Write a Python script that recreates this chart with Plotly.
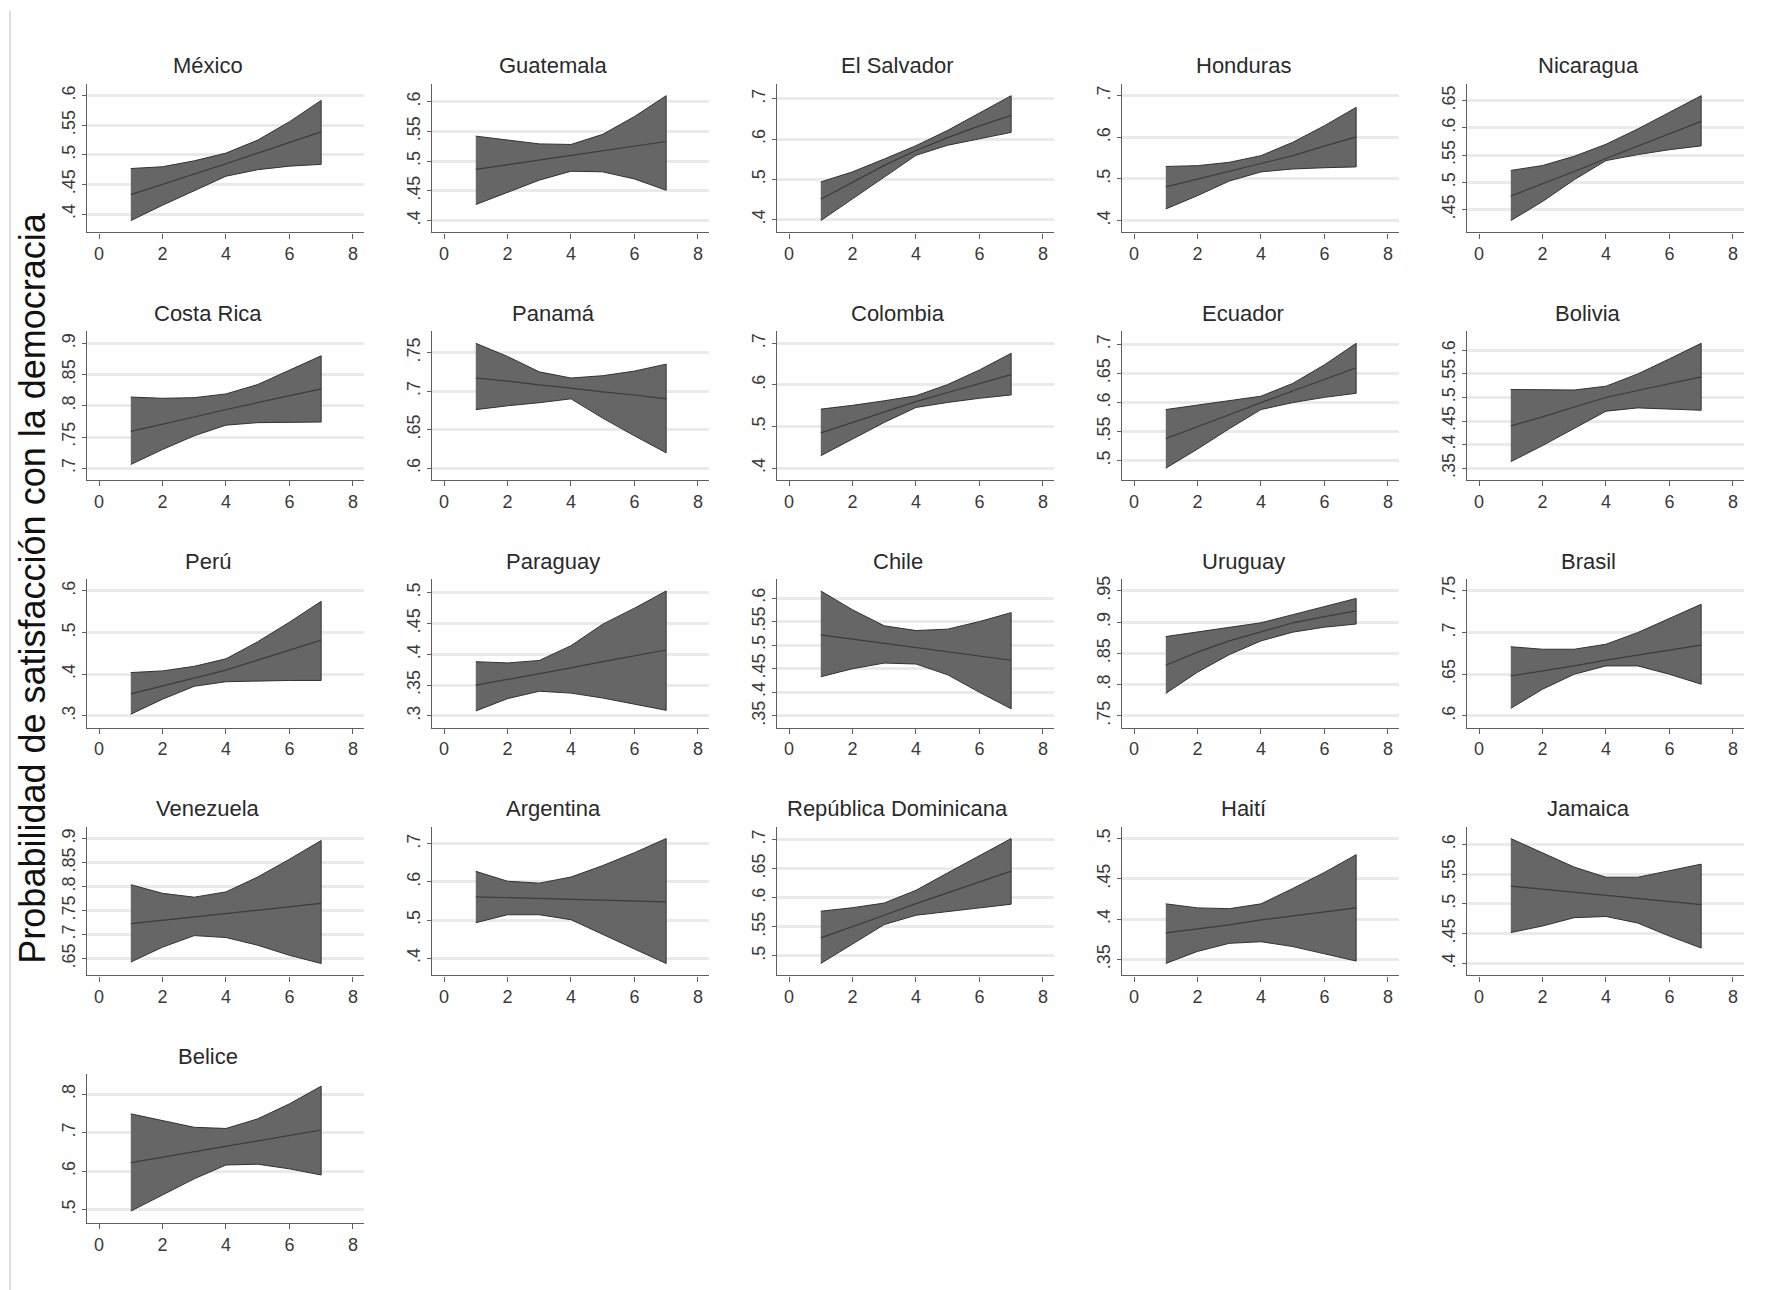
import plotly.graph_objects as go

W, H = 1772, 1290

countries = ["México", "Guatemala", "El Salvador", "Honduras", "Nicaragua",
             "Costa Rica", "Panamá", "Colombia", "Ecuador", "Bolivia",
             "Perú", "Paraguay", "Chile", "Uruguay", "Brasil",
             "Venezuela", "Argentina", "República Dominicana", "Haití", "Jamaica",
             "Belice"]

x_vals = [1, 2, 3, 4, 5, 6, 7]
x_ticks = [0, 2, 4, 6, 8]

y_ticks = {
    "México": [.4, .45, .5, .55, .6],
    "Guatemala": [.4, .45, .5, .55, .6],
    "El Salvador": [.4, .5, .6, .7],
    "Honduras": [.4, .5, .6, .7],
    "Nicaragua": [.45, .5, .55, .6, .65],
    "Costa Rica": [.7, .75, .8, .85, .9],
    "Panamá": [.6, .65, .7, .75],
    "Colombia": [.4, .5, .6, .7],
    "Ecuador": [.5, .55, .6, .65, .7],
    "Bolivia": [.35, .4, .45, .5, .55, .6],
    "Perú": [.3, .4, .5, .6],
    "Paraguay": [.3, .35, .4, .45, .5],
    "Chile": [.35, .4, .45, .5, .55, .6],
    "Uruguay": [.75, .8, .85, .9, .95],
    "Brasil": [.6, .65, .7, .75],
    "Venezuela": [.65, .7, .75, .8, .85, .9],
    "Argentina": [.4, .5, .6, .7],
    "República Dominicana": [.5, .55, .6, .65, .7],
    "Haití": [.35, .4, .45, .5],
    "Jamaica": [.4, .45, .5, .55, .6],
    "Belice": [.5, .6, .7, .8],
}

fitted = {
    "México": [.433, .450, .467, .485, .503, .521, .539],
    "Guatemala": [.486, .494, .502, .510, .518, .525, .533],
    "El Salvador": [.451, .493, .535, .572, .604, .633, .659],
    "Honduras": [.481, .500, .518, .537, .556, .579, .601],
    "Nicaragua": [.475, .497, .520, .544, .567, .590, .612],
    "Costa Rica": [.759, .770, .782, .794, .805, .816, .827],
    "Panamá": [.717, .713, .708, .704, .699, .695, .690],
    "Colombia": [.485, .510, .535, .560, .582, .604, .625],
    "Ecuador": [.538, .558, .579, .600, .620, .640, .660],
    "Bolivia": [.440, .459, .480, .500, .515, .530, .544],
    "Perú": [.353, .372, .391, .410, .434, .458, .482],
    "Paraguay": [.350, .359, .369, .378, .388, .397, .407],
    "Chile": [.522, .513, .504, .495, .486, .477, .468],
    "Uruguay": [.831, .852, .870, .885, .899, .909, .918],
    "Brasil": [.648, .654, .660, .667, .673, .679, .685],
    "Venezuela": [.723, .730, .737, .744, .751, .758, .765],
    "Argentina": [.561, .559, .557, .555, .552, .550, .548],
    "República Dominicana": [.531, .550, .570, .590, .609, .628, .646],
    "Haití": [.383, .388, .393, .399, .404, .409, .414],
    "Jamaica": [.530, .525, .520, .515, .509, .504, .499],
    "Belice": [.622, .636, .650, .664, .678, .693, .707],
}

upper = {
    "México": [.477, .480, .490, .503, .525, .556, .592],
    "Guatemala": [.542, .535, .529, .528, .545, .575, .610],
    "El Salvador": [.494, .519, .551, .584, .622, .664, .708],
    "Honduras": [.530, .532, .540, .556, .588, .628, .672],
    "Nicaragua": [.522, .531, .548, .570, .598, .628, .659],
    "Costa Rica": [.814, .812, .813, .819, .834, .857, .880],
    "Panamá": [.762, .745, .725, .717, .720, .726, .735],
    "Colombia": [.542, .551, .562, .574, .601, .636, .676],
    "Ecuador": [.588, .596, .603, .611, .633, .665, .702],
    "Bolivia": [.517, .516, .516, .524, .550, .582, .615],
    "Perú": [.404, .408, .419, .437, .478, .525, .575],
    "Paraguay": [.388, .386, .390, .414, .449, .475, .503],
    "Chile": [.615, .575, .541, .531, .534, .550, .569],
    "Uruguay": [.877, .884, .891, .899, .912, .925, .938],
    "Brasil": [.683, .680, .680, .686, .700, .717, .734],
    "Venezuela": [.804, .786, .778, .789, .820, .857, .896],
    "Argentina": [.628, .602, .597, .613, .643, .677, .714],
    "República Dominicana": [.577, .583, .591, .613, .643, .673, .702],
    "Haití": [.419, .414, .413, .419, .438, .458, .480],
    "Jamaica": [.610, .586, .562, .545, .545, .556, .567],
    "Belice": [.749, .732, .714, .711, .736, .775, .821],
}

lower = {
    "México": [.389, .415, .440, .464, .475, .481, .484],
    "Guatemala": [.427, .447, .468, .483, .482, .470, .451],
    "El Salvador": [.398, .452, .507, .560, .585, .601, .617],
    "Honduras": [.428, .460, .495, .517, .524, .527, .529],
    "Nicaragua": [.430, .465, .505, .540, .551, .560, .567],
    "Costa Rica": [.706, .730, .752, .769, .773, .774, .774],
    "Panamá": [.676, .681, .685, .690, .665, .642, .620],
    "Colombia": [.430, .470, .510, .546, .558, .568, .576],
    "Ecuador": [.487, .520, .555, .588, .600, .609, .616],
    "Bolivia": [.364, .398, .435, .471, .478, .476, .473],
    "Perú": [.304, .340, .371, .382, .384, .385, .385],
    "Paraguay": [.308, .328, .340, .337, .329, .319, .309],
    "Chile": [.433, .450, .462, .460, .437, .400, .365],
    "Uruguay": [.786, .820, .848, .870, .884, .892, .897],
    "Brasil": [.609, .632, .650, .660, .660, .650, .638],
    "Venezuela": [.643, .674, .698, .694, .678, .657, .640],
    "Argentina": [.493, .514, .514, .501, .463, .424, .386],
    "República Dominicana": [.487, .520, .554, .570, .576, .583, .589],
    "Haití": [.345, .360, .370, .372, .366, .357, .348],
    "Jamaica": [.452, .463, .477, .479, .468, .446, .426],
    "Belice": [.496, .538, .580, .616, .618, .606, .590],
}

y_title = "Probabilidad de satisfacción con la democracia"


def fmt(v):
    s = f"{v:g}"
    return s[1:] if s.startswith("0") else s


# panel geometry in pixels
left0, col_step, plot_w = 79, 345, 277
bottom0, row_step, plot_h = 222, 248.2, 149

tick_font = dict(family="Liberation Sans Narrow, Liberation Sans, Arial",
                 size=18, color="#3a3a3a")

fig = go.Figure()
layout = {}
annotations = []

for i, name in enumerate(countries):
    r, c = divmod(i, 5)
    k = "" if i == 0 else str(i + 1)
    x0 = left0 + c * col_step
    yb = bottom0 + r * row_step
    xd = [x0 / W, (x0 + plot_w) / W]
    yd = [1 - yb / H, 1 - (yb - plot_h) / H]

    fig.add_trace(go.Scatter(
        x=x_vals + x_vals[::-1], y=upper[name] + lower[name][::-1],
        fill="toself", fillcolor="rgb(102,102,102)",
        line=dict(color="rgb(50,50,50)", width=1),
        mode="lines", hoverinfo="skip", showlegend=False,
        xaxis="x" + k, yaxis="y" + k))
    fig.add_trace(go.Scatter(
        x=x_vals, y=fitted[name], mode="lines",
        line=dict(color="rgb(60,60,60)", width=1.2),
        showlegend=False, xaxis="x" + k, yaxis="y" + k))

    ticks = y_ticks[name]
    lo = min(min(ticks), min(lower[name]))
    hi = max(max(ticks), max(upper[name]))
    pad = (hi - lo) * 0.095

    layout["xaxis" + k] = dict(
        domain=xd, anchor="y" + k, range=[-0.38, 8.35],
        tickvals=x_ticks, ticktext=[str(t) for t in x_ticks],
        showgrid=False, zeroline=False, showline=True,
        linecolor="#5f5f5f", linewidth=1.3,
        ticks="outside", ticklen=5, tickcolor="#5f5f5f",
        tickfont=tick_font)
    layout["yaxis" + k] = dict(
        domain=yd, anchor="x" + k, range=[lo - pad, hi + pad],
        tickvals=ticks, ticktext=[fmt(t) for t in ticks], tickangle=-90,
        showgrid=True, gridcolor="#eaeaea", gridwidth=2.5,
        zeroline=False, showline=True,
        linecolor="#5f5f5f", linewidth=1.3,
        ticks="outside", ticklen=4, tickcolor="#5f5f5f",
        tickfont=tick_font)

    annotations.append(dict(
        text=name, xref="paper", yref="paper",
        x=(200 + c * col_step) / W, y=1 - (yb - 167) / H,
        xanchor="center", yanchor="middle", showarrow=False,
        font=dict(family="Liberation Sans, Arial", size=22, color="#2a2a2a")))

annotations.append(dict(
    text=y_title, xref="paper", yref="paper", x=25 / W, y=1 - 579 / H,
    xanchor="center", yanchor="middle", textangle=-90, showarrow=False,
    font=dict(family="Liberation Sans, Arial", size=36, color="#111111")))

fig.update_layout(
    width=W, height=H, margin=dict(l=0, r=0, t=0, b=0),
    paper_bgcolor="white", plot_bgcolor="white",
    annotations=annotations,
    shapes=[dict(type="line", xref="paper", yref="paper", x0=2 / W, x1=2 / W,
                 y0=0, y1=1, line=dict(color="#dddddd", width=2))],
    **layout)

fig.write_html("out.html")
